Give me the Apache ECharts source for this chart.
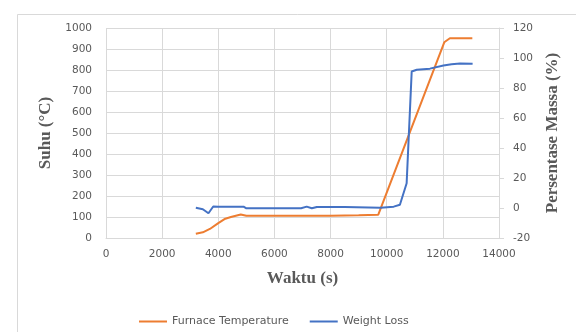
<!DOCTYPE html>
<html><head><meta charset="utf-8">
<script src="https://cdn.jsdelivr.net/npm/echarts@6/dist/echarts.min.js"></script>
<style>html,body{margin:0;padding:0;background:#fff}#c{width:576px;height:332px}</style>
</head><body><div id="c"></div>
<script>
// Furnace temperature (°C) vs time (s)
var tempTime = [3200, 3450, 3700, 4000, 4250, 4450, 4800, 5000, 6000, 7000, 8000, 9000, 9700, 12050, 12250, 13050];
var tempValues = [20, 27, 43, 71, 92, 100, 112, 106, 106, 106, 106, 108, 111, 932, 951, 951];
// Weight loss (%) vs time (s)
var wlTime = [3200, 3450, 3650, 3820, 4000, 4900, 5000, 6950, 7150, 7330, 7510, 8500, 9780, 10250, 10470, 10710, 10890, 11070, 11540, 12020, 12310, 12610, 13060];
var wlValues = [0.2, -0.8, -3.5, 1, 0.9, 0.9, -0.2, -0.2, 0.9, -0.2, 0.7, 0.7, 0.2, 0.9, 2.2, 16.5, 91, 92.2, 92.9, 95, 95.8, 96.4, 96.2];
var seriesNames = ['Furnace Temperature', 'Weight Loss'];

function pairs(xs, ys) { return xs.map(function (x, i) { return [x, ys[i]]; }); }
function plain(v) { return String(v); }

var txt = '#595959', grid = '#d9d9d9';
var lbl = { color: txt, fontFamily: 'DejaVu Sans', fontSize: 10.5, formatter: plain };
var ttl = { color: txt, fontFamily: 'Liberation Serif', fontWeight: 'bold', fontSize: 17 };

var chart = echarts.init(document.getElementById('c'), null, { renderer: 'canvas' });
chart.setOption({
  animation: false,
  backgroundColor: '#fff',
  graphic: [{ type: 'rect', left: 15, top: 12, shape: { width: 700, height: 500 }, style: { fill: 'none', stroke: grid, lineWidth: 1 }, silent: true }],
  grid: { left: 106, right: 77, top: 28, bottom: 94 },
  legend: {
    left: 134, top: 311, itemWidth: 28, itemHeight: 2, itemGap: 21, icon: 'rect',
    textStyle: { color: txt, fontFamily: 'DejaVu Sans', fontSize: 11 },
    data: seriesNames
  },
  xAxis: {
    type: 'value', min: 0, max: 14000, interval: 2000,
    name: 'Waktu (s)', nameLocation: 'middle', nameGap: 32, nameTextStyle: ttl,
    axisLine: { show: true, lineStyle: { color: grid } }, axisTick: { show: false },
    axisLabel: Object.assign({ margin: 11 }, lbl),
    splitLine: { show: true, lineStyle: { color: grid } }
  },
  yAxis: [{
    type: 'value', min: 0, max: 1000, interval: 100, position: 'left',
    name: 'Suhu (°C)', nameLocation: 'middle', nameGap: 51, nameTextStyle: ttl,
    axisLine: { show: false }, axisTick: { show: false },
    axisLabel: Object.assign({ margin: 14 }, lbl),
    splitLine: { show: true, lineStyle: { color: grid } }
  }, {
    type: 'value', min: -20, max: 120, interval: 20, position: 'right',
    name: 'Persentase Massa (%)', nameLocation: 'middle', nameGap: 44, nameTextStyle: ttl,
    axisLine: { show: true, lineStyle: { color: grid } },
    axisTick: { show: true, inside: false, length: 5, lineStyle: { color: grid } },
    axisLabel: Object.assign({ margin: 14 }, lbl),
    splitLine: { show: false }
  }],
  series: [{
    name: seriesNames[0], type: 'line', yAxisIndex: 0, data: pairs(tempTime, tempValues),
    showSymbol: false, symbol: 'none', lineStyle: { color: '#ED7D31', width: 2 }, itemStyle: { color: '#ED7D31' }
  }, {
    name: seriesNames[1], type: 'line', yAxisIndex: 1, data: pairs(wlTime, wlValues),
    showSymbol: false, symbol: 'none', lineStyle: { color: '#4472C4', width: 2 }, itemStyle: { color: '#4472C4' }
  }]
});
</script></body></html>
